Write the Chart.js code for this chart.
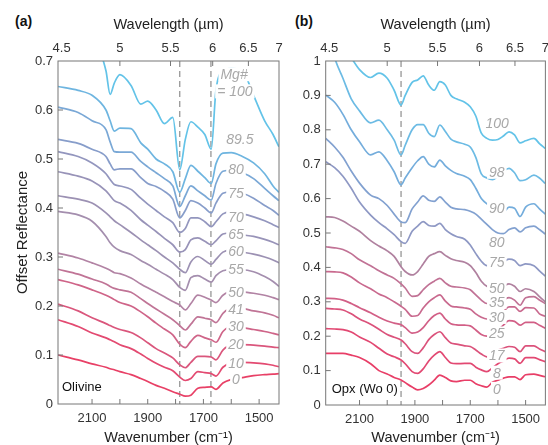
<!DOCTYPE html>
<html>
<head>
<script src="https://cdn.jsdelivr.net/npm/chart.js@4.4.1/dist/chart.umd.min.js"></script>
<style>
body { margin: 0; overflow: hidden; background: #fff; font-family: "Liberation Sans", Arial, sans-serif; }
canvas { position: absolute; top: 0; }
#ca { left: 0; }
#cb { left: 282px; }
.pl { position: absolute; top: 13px; font-size: 14px; line-height: 16px; font-weight: bold; color: #111; }
</style>
</head>
<body>
<div class="pl" style="left:15px">(a)</div>
<div class="pl" style="left:295px">(b)</div>
<canvas id="ca" width="288" height="447"></canvas>
<canvas id="cb" width="272" height="447"></canvas>
<script>
// ---- shared axis values ----
var wavelengthTicks = [4.5, 5, 5.5, 6, 6.5, 7];
var wavenumberLabels = [2100, 1900, 1700, 1500];
var wavenumberMinor = [2100, 2000, 1900, 1800, 1700, 1600, 1500];
var insideWavelength = [5, 5.5, 6, 6.5];

// ---- (a) olivine ----
var wnA = [2222, 2150, 2100, 2050, 2035, 2020, 2000, 1960, 1925, 1900, 1870, 1840, 1810, 1785, 1765, 1745, 1720, 1695, 1672, 1655, 1630, 1600, 1560, 1520, 1480, 1450, 1429];
var ol100 = [0.86,0.80,0.76,0.68,0.632,0.655,0.672,0.65,0.612,0.618,0.60,0.572,0.585,0.478,0.54,0.576,0.565,0.55,0.52,0.64,0.68,0.685,0.68,0.63,0.578,0.55,0.525];
var ol895 = [0.648,0.640,0.630,0.600,0.578,0.557,0.563,0.562,0.533,0.52,0.50,0.49,0.474,0.432,0.46,0.487,0.475,0.462,0.450,0.49,0.512,0.513,0.505,0.492,0.47,0.445,0.432];
var ol80 = [0.606,0.595,0.578,0.56,0.535,0.515,0.514,0.514,0.495,0.484,0.472,0.46,0.445,0.403,0.425,0.445,0.435,0.425,0.416,0.45,0.475,0.477,0.472,0.46,0.44,0.425,0.415];
var ol75 = [0.540,0.532,0.52,0.505,0.49,0.478,0.48,0.48,0.462,0.45,0.444,0.434,0.418,0.38,0.395,0.415,0.41,0.40,0.39,0.41,0.43,0.433,0.43,0.42,0.405,0.395,0.385];
var ol70 = [0.515,0.505,0.492,0.47,0.458,0.448,0.445,0.438,0.42,0.408,0.395,0.382,0.37,0.35,0.358,0.38,0.38,0.372,0.362,0.372,0.388,0.392,0.388,0.382,0.374,0.366,0.36];
var ol65 = [0.474,0.465,0.455,0.435,0.425,0.415,0.41,0.395,0.376,0.365,0.352,0.338,0.325,0.31,0.315,0.335,0.339,0.332,0.325,0.333,0.347,0.349,0.345,0.342,0.336,0.33,0.325];
var ol60 = [0.425,0.418,0.41,0.39,0.382,0.374,0.366,0.35,0.335,0.325,0.313,0.30,0.288,0.275,0.268,0.29,0.301,0.293,0.285,0.295,0.31,0.314,0.31,0.306,0.30,0.294,0.288];
var ol55 = [0.393,0.386,0.373,0.342,0.329,0.32,0.313,0.305,0.293,0.285,0.275,0.265,0.254,0.238,0.232,0.258,0.262,0.255,0.249,0.262,0.272,0.274,0.274,0.27,0.26,0.25,0.24];
var ol50 = [0.308,0.298,0.288,0.277,0.273,0.268,0.266,0.257,0.245,0.237,0.228,0.219,0.209,0.202,0.192,0.205,0.222,0.218,0.212,0.207,0.222,0.23,0.229,0.226,0.222,0.217,0.213];
var ol41 = [0.275,0.265,0.255,0.245,0.24,0.236,0.233,0.228,0.215,0.205,0.194,0.183,0.172,0.16,0.151,0.163,0.178,0.175,0.172,0.166,0.185,0.196,0.195,0.19,0.186,0.181,0.176];
var ol30 = [0.254,0.243,0.233,0.222,0.218,0.213,0.207,0.2,0.188,0.178,0.165,0.153,0.141,0.122,0.115,0.128,0.14,0.135,0.131,0.126,0.148,0.158,0.156,0.152,0.148,0.144,0.141];
var ol20 = [0.204,0.19,0.176,0.164,0.16,0.156,0.152,0.146,0.135,0.125,0.113,0.104,0.094,0.08,0.074,0.085,0.097,0.097,0.096,0.09,0.11,0.12,0.121,0.12,0.118,0.116,0.115];
var ol10 = [0.172,0.158,0.145,0.135,0.131,0.127,0.121,0.113,0.102,0.093,0.083,0.075,0.068,0.055,0.048,0.052,0.066,0.064,0.062,0.057,0.075,0.084,0.085,0.084,0.082,0.079,0.076];
var ol0 = [0.1,0.09,0.082,0.075,0.072,0.07,0.066,0.06,0.052,0.046,0.038,0.032,0.025,0.02,0.016,0.018,0.032,0.034,0.035,0.03,0.043,0.05,0.054,0.058,0.06,0.061,0.062];
var olivineSeries = [ol100, ol895, ol80, ol75, ol70, ol65, ol60, ol55, ol50, ol41, ol30, ol20, ol10, ol0];
var olivineColors = ['#63c3e8','#6eb5e0','#7aa8d6','#879dca','#9396be','#9893b8','#9c91b3','#a48eae','#b283a4','#c07496','#cf6488','#da567c','#e34a71','#e84066'];
var olivineText = ['Mg#', '= 100', '89.5', '80', '75', '70', '65', '60', '55', '50', '41', '30', '20', '10', '0'];
var olivineTextWn = [1590, 1587, 1569, 1583, 1583, 1583, 1583, 1583, 1583, 1583, 1583, 1583, 1583, 1583, 1583];
var olivineTextVal = [0.673, 0.638, 0.54, 0.479, 0.431, 0.382, 0.346, 0.313, 0.276, 0.228, 0.194, 0.158, 0.123, 0.084, 0.051];
var olivineBands = [1785, 1673];

// ---- (b) orthopyroxene ----
var wnB = [2222, 2190, 2160, 2130, 2100, 2060, 2030, 2000, 1975, 1950, 1935, 1910, 1890, 1870, 1850, 1830, 1810, 1790, 1770, 1750, 1720, 1700, 1680, 1660, 1640, 1620, 1600, 1580, 1560, 1540, 1520, 1500, 1470, 1450, 1429];
var px100 = [1.15,1.10,1.05,1.01,0.975,0.952,0.965,0.95,0.915,0.872,0.9,0.938,0.945,0.957,0.93,0.915,0.94,0.93,0.90,0.89,0.88,0.867,0.84,0.79,0.775,0.77,0.772,0.782,0.794,0.785,0.762,0.768,0.775,0.76,0.746];
var px98 = [1.12,1.01,0.95,0.89,0.855,0.82,0.828,0.80,0.77,0.727,0.755,0.80,0.815,0.815,0.79,0.78,0.814,0.795,0.773,0.765,0.758,0.75,0.72,0.672,0.66,0.655,0.665,0.68,0.688,0.675,0.652,0.655,0.668,0.66,0.644];
var px90 = [0.901,0.88,0.845,0.80,0.765,0.727,0.736,0.71,0.678,0.64,0.66,0.69,0.71,0.722,0.70,0.692,0.712,0.695,0.682,0.673,0.665,0.655,0.63,0.60,0.585,0.577,0.572,0.56,0.575,0.572,0.548,0.575,0.585,0.57,0.555];
var px80 = [0.775,0.75,0.72,0.68,0.645,0.61,0.60,0.58,0.555,0.532,0.53,0.57,0.59,0.608,0.595,0.592,0.605,0.59,0.575,0.57,0.568,0.563,0.555,0.54,0.525,0.51,0.50,0.498,0.51,0.515,0.503,0.515,0.52,0.51,0.497];
var px75 = [0.707,0.69,0.665,0.63,0.59,0.552,0.53,0.512,0.495,0.475,0.47,0.505,0.52,0.533,0.522,0.52,0.528,0.51,0.498,0.49,0.482,0.465,0.44,0.418,0.405,0.408,0.415,0.417,0.424,0.42,0.405,0.41,0.405,0.39,0.375];
var px50 = [0.547,0.545,0.535,0.52,0.505,0.478,0.462,0.448,0.432,0.402,0.388,0.378,0.388,0.41,0.432,0.44,0.446,0.435,0.425,0.42,0.415,0.405,0.385,0.36,0.345,0.34,0.34,0.345,0.352,0.345,0.33,0.338,0.33,0.315,0.30];
var px35 = [0.46,0.457,0.452,0.44,0.422,0.405,0.39,0.378,0.368,0.352,0.34,0.316,0.318,0.335,0.35,0.36,0.368,0.355,0.345,0.343,0.34,0.335,0.32,0.305,0.295,0.295,0.30,0.305,0.312,0.305,0.29,0.312,0.315,0.305,0.295];
var px30 = [0.388,0.387,0.384,0.372,0.355,0.338,0.323,0.312,0.30,0.287,0.278,0.258,0.26,0.282,0.30,0.312,0.32,0.302,0.288,0.285,0.282,0.278,0.265,0.255,0.25,0.255,0.262,0.272,0.285,0.285,0.272,0.283,0.282,0.265,0.258];
var px25 = [0.31,0.309,0.305,0.295,0.283,0.268,0.255,0.244,0.238,0.233,0.225,0.209,0.212,0.225,0.245,0.26,0.267,0.25,0.236,0.233,0.232,0.23,0.218,0.205,0.20,0.21,0.218,0.232,0.245,0.243,0.232,0.24,0.24,0.232,0.223];
var px17 = [0.281,0.279,0.276,0.265,0.25,0.235,0.22,0.205,0.197,0.189,0.178,0.155,0.15,0.166,0.19,0.205,0.213,0.196,0.18,0.177,0.172,0.17,0.16,0.148,0.14,0.152,0.16,0.165,0.17,0.168,0.155,0.172,0.172,0.163,0.155];
var px8 = [0.222,0.221,0.219,0.212,0.198,0.182,0.165,0.148,0.14,0.131,0.12,0.097,0.092,0.105,0.128,0.145,0.155,0.138,0.122,0.12,0.121,0.121,0.11,0.102,0.097,0.108,0.12,0.128,0.136,0.134,0.121,0.138,0.138,0.132,0.126];
var px0 = [0.15,0.15,0.15,0.145,0.138,0.12,0.1,0.09,0.08,0.073,0.065,0.052,0.044,0.048,0.058,0.072,0.087,0.08,0.07,0.068,0.072,0.072,0.062,0.056,0.052,0.066,0.072,0.078,0.082,0.082,0.074,0.088,0.09,0.086,0.082];
var opxSeries = [px100, px98, px90, px80, px75, px50, px35, px30, px25, px17, px8, px0];
var opxColors = ['#63c3e8','#6cbbe4','#74addc','#82a1d0','#8e98c4','#b0819f','#c17295','#c9698e','#d25f86','#db527b','#e24872','#e83e67'];
var opxText = ['100', '98', '90', '80', '75', '50', '35', '30', '25', '17', '8', '0'];
var opxTextWn = [1603, 1604, 1604, 1604, 1604, 1604, 1604, 1604, 1604, 1604, 1604, 1604];
var opxTextVal = [0.819, 0.678, 0.573, 0.474, 0.416, 0.339, 0.30, 0.256, 0.208, 0.144, 0.094, 0.047];
var opxBands = [1950];

var FONT = '"Liberation Sans", Arial, sans-serif';
Chart.defaults.font.family = FONT;
var xLeft = 1e4 / 4.5, xRight = 1e4 / 7;

var decor = {
  id: 'decor',
  beforeDatasetsDraw: function(chart, args, o) {
    var ctx = chart.ctx, a = chart.chartArea, x = chart.scales.x;
    ctx.save();
    ctx.strokeStyle = '#8e8e8e'; ctx.lineWidth = 1.2; ctx.setLineDash([6, 4]);
    o.bands.forEach(function(w) {
      var px = x.getPixelForValue(w);
      ctx.beginPath(); ctx.moveTo(px, a.top); ctx.lineTo(px, a.bottom); ctx.stroke();
    });
    ctx.restore();
  },
  afterDatasetsDraw: function(chart, args, o) {
    var ctx = chart.ctx, a = chart.chartArea, x = chart.scales.x, y = chart.scales.y;
    ctx.save();
    // curve labels sit on small white patches
    ctx.font = 'italic 14px ' + FONT;
    ctx.textAlign = 'center'; ctx.textBaseline = 'middle';
    o.text.forEach(function(t, i) {
      var px = x.getPixelForValue(o.wn[i]), py = y.getPixelForValue(o.val[i]);
      var w = ctx.measureText(t).width;
      ctx.fillStyle = '#fff';
      ctx.fillRect(px - w / 2 - 2, py - 7, w + 4, 14);
      ctx.fillStyle = '#a8a8a8';
      ctx.fillText(t, px, py + 1);
    });
    ctx.font = '13px ' + FONT; ctx.textAlign = 'left'; ctx.fillStyle = '#111';
    ctx.fillText(o.sample, a.left + o.sampleDx, a.bottom - o.sampleDy);
    // frame + inward ticks
    ctx.strokeStyle = '#777'; ctx.lineWidth = 1;
    ctx.strokeRect(a.left, a.top, a.right - a.left, a.bottom - a.top);
    ctx.beginPath();
    wavenumberMinor.forEach(function(w) {
      var px = x.getPixelForValue(w); ctx.moveTo(px, a.bottom); ctx.lineTo(px, a.bottom - 5);
    });
    insideWavelength.forEach(function(l) {
      var px = chart.scales.x2.getPixelForValue(1e4 / l); ctx.moveTo(px, a.top); ctx.lineTo(px, a.top + 5);
    });
    o.yTicks.forEach(function(v) {
      var py = y.getPixelForValue(v); ctx.moveTo(a.left, py); ctx.lineTo(a.left + 5, py);
    });
    ctx.stroke();
    ctx.restore();
  }
};

function makeChart(id, c) {
  return new Chart(document.getElementById(id), {
    type: 'line',
    data: {
      datasets: c.series.map(function(s, i) {
        return {
          data: c.wn.map(function(w, j) { return {x: w, y: s[j]}; }),
          borderColor: c.colors[i], borderWidth: 1.7, pointRadius: 0,
          cubicInterpolationMode: 'monotone', fill: false
        };
      })
    },
    options: {
      responsive: false, animation: false, devicePixelRatio: 1,
      layout: {padding: {left: 0, right: c.padRight, top: 0, bottom: 0}},
      plugins: {
        legend: {display: false}, tooltip: {enabled: false},
        decor: {bands: c.bands, text: c.text, wn: c.textWn, val: c.textVal,
                sample: c.sample, sampleDx: c.sampleDx, sampleDy: c.sampleDy, yTicks: c.yTicks}
      },
      scales: {
        x: {
          type: 'linear', position: 'bottom', reverse: true, min: xRight, max: xLeft, bounds: 'data',
          afterBuildTicks: function(s) { s.ticks = wavenumberMinor.map(function(v) { return {value: v}; }); },
          afterFit: function(s) { s.height = c.bottomH; },
          grid: {display: false, drawTicks: false}, border: {display: false},
          ticks: {autoSkip: false, maxRotation: 0, padding: 7, color: '#333', font: {size: 13},
                  callback: function(v) { return wavenumberLabels.indexOf(v) >= 0 ? String(v) : ''; }},
          title: {display: true, text: 'Wavenumber (cm\u207B\u00B9)', color: '#222', font: {size: 14.5}, padding: {top: 0, bottom: 0}}
        },
        x2: {
          type: 'linear', position: 'top', reverse: true, min: xRight, max: xLeft, bounds: 'data',
          afterBuildTicks: function(s) { s.ticks = wavelengthTicks.map(function(l) { return {value: 1e4 / l}; }); },
          afterFit: function(s) { s.height = 61; },
          grid: {display: false, drawTicks: false}, border: {display: false},
          ticks: {autoSkip: false, maxRotation: 0, padding: 5, color: '#333', font: {size: 13},
                  callback: function(v, i) { var l = String(Math.round(1e5 / v) / 10); return i === 0 ? '  ' + l : l; }},
          title: {display: true, text: 'Wavelength (\u00B5m)', color: '#222', font: {size: 14.5}, padding: {top: 16, bottom: 0}}
        },
        y: {
          type: 'linear', position: 'left', min: 0, max: c.yMax,
          afterFit: function(s) { s.width = c.yWidth; },
          grid: {display: false, drawTicks: false}, border: {display: false},
          ticks: {stepSize: 0.1, padding: 5, color: '#333', font: {size: 13},
                  callback: function(v) { return String(Math.round(v * 10) / 10); }},
          title: {display: c.yTitle, text: 'Offset Reflectance', color: '#222', font: {size: 15}, padding: {top: 14, bottom: 0}}
        }
      }
    },
    plugins: [decor]
  });
}

makeChart('ca', {
  wn: wnA, series: olivineSeries, colors: olivineColors, bands: olivineBands,
  text: olivineText, textWn: olivineTextWn, textVal: olivineTextVal,
  sample: 'Olivine', sampleDx: 4, sampleDy: 17,
  yMax: 0.7, yTicks: [0.1, 0.2, 0.3, 0.4, 0.5, 0.6], yWidth: 58, yTitle: true,
  padRight: 9, bottomH: 43
});
makeChart('cb', {
  wn: wnB, series: opxSeries, colors: opxColors, bands: opxBands,
  text: opxText, textWn: opxTextWn, textVal: opxTextVal,
  sample: 'Opx (Wo 0)', sampleDx: 6, sampleDy: 16,
  yMax: 1, yTicks: [0.1, 0.2, 0.3, 0.4, 0.5, 0.6, 0.7, 0.8, 0.9], yWidth: 43.7, yTitle: false,
  padRight: 8.3, bottomH: 42
});
</script>
</body>
</html>
